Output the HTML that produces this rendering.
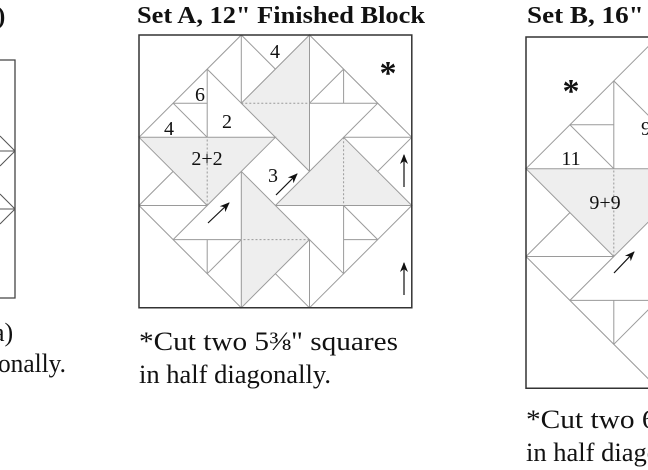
<!DOCTYPE html>
<html><head><meta charset="utf-8"><style>
html,body{margin:0;padding:0;background:#fff;width:648px;height:470px;overflow:hidden}
svg{display:block}
text{font-family:"Liberation Serif",serif;fill:#111}
</style></head><body>
<svg width="648" height="470" viewBox="0 0 648 470" xmlns="http://www.w3.org/2000/svg">
<defs>
<g id="arm">
 <polygon points="5,0 5,4 3,2" fill="#eeeeee" stroke="#9a9a9a" stroke-width="1" vector-effect="non-scaling-stroke"/>
 <g stroke="#9a9a9a" stroke-width="1" fill="none">
  <line x1="3" y1="0" x2="0" y2="3" vector-effect="non-scaling-stroke"/>
  <line x1="3" y1="0" x2="3" y2="2" vector-effect="non-scaling-stroke"/>
  <line x1="3" y1="0" x2="4" y2="1" vector-effect="non-scaling-stroke"/>
  <line x1="2" y1="1" x2="3" y2="2" vector-effect="non-scaling-stroke"/>
  <line x1="2" y1="1" x2="2" y2="3" vector-effect="non-scaling-stroke"/>
  <line x1="1" y1="2" x2="2" y2="2" vector-effect="non-scaling-stroke"/>
  <line x1="1" y1="2" x2="2" y2="3" vector-effect="non-scaling-stroke"/>
 </g>
 <line x1="3" y1="2" x2="5" y2="2" stroke="#999" stroke-width="1" stroke-dasharray="2,2" vector-effect="non-scaling-stroke"/>
</g>
<g id="block">
 <use href="#arm"/>
 <use href="#arm" transform="rotate(90,4,4)"/>
 <use href="#arm" transform="rotate(180,4,4)"/>
 <use href="#arm" transform="rotate(270,4,4)"/>
 <rect x="0" y="0" width="8" height="8" fill="none" stroke="#333" stroke-width="1.5" vector-effect="non-scaling-stroke"/>
</g>
<marker id="ah" viewBox="0 0 10 10" refX="9" refY="5" markerWidth="10" markerHeight="10" markerUnits="userSpaceOnUse" orient="auto">
 <path d="M0,1 L10,5 L0,9 L3,5 Z" fill="#111"/>
</marker>
</defs>

<!-- left partial block -->
<text x="-3" y="24" font-size="25" font-weight="bold">)</text>
<g stroke="#444" fill="none" stroke-width="1.3">
 <polyline points="0,60 15,60 15,298 0,298"/>
</g>
<g stroke="#555" fill="none" stroke-width="1">
 <line x1="0" y1="151" x2="15" y2="151"/>
 <line x1="0" y1="136" x2="15" y2="151"/>
 <line x1="0" y1="166" x2="15" y2="151"/>
 <line x1="0" y1="209" x2="15" y2="209"/>
 <line x1="0" y1="194" x2="15" y2="209"/>
 <line x1="0" y1="224" x2="15" y2="209"/>
</g>
<text x="-7" y="341" font-size="26">a)</text>
<text x="-2" y="372" font-size="26" textLength="68" lengthAdjust="spacingAndGlyphs">onally.</text>

<!-- Set A -->
<text x="137" y="23" font-size="24" font-weight="bold" textLength="288" lengthAdjust="spacingAndGlyphs">Set A, 12" Finished Block</text>
<g transform="translate(139,35) scale(34.1)"><use href="#block"/></g>
<g font-size="20" text-anchor="middle">
 <text x="275" y="58">4</text>
 <text x="200" y="101">6</text>
 <text x="227" y="128">2</text>
 <text x="169" y="135">4</text>
 <text x="207" y="165">2+2</text>
 <text x="273" y="182">3</text>
</g>
<text x="388" y="84" font-size="34" text-anchor="middle" font-weight="bold">*</text>
<g stroke="#111" stroke-width="1.2" marker-end="url(#ah)">
 <line x1="208" y1="223" x2="229" y2="203"/>
 <line x1="276" y1="195" x2="297" y2="174"/>
 <line x1="404" y1="187" x2="404" y2="155"/>
 <line x1="404" y1="295" x2="404" y2="263"/>
</g>
<text x="139" y="350" font-size="26" textLength="259" lengthAdjust="spacingAndGlyphs">*Cut two 5⅜" squares</text>
<text x="139" y="383" font-size="26" textLength="192" lengthAdjust="spacingAndGlyphs">in half diagonally.</text>

<!-- Set B -->
<text x="527" y="23" font-size="24" font-weight="bold" textLength="296" lengthAdjust="spacingAndGlyphs">Set B, 16" Finished Block</text>
<g transform="translate(526,37) scale(43.9)"><use href="#block"/></g>
<g font-size="20" text-anchor="middle">
 <text x="571" y="165">11</text>
 <text x="646" y="135">9</text>
 <text x="605" y="209">9+9</text>
</g>
<text x="571" y="102" font-size="34" text-anchor="middle" font-weight="bold">*</text>
<g stroke="#111" stroke-width="1.2" marker-end="url(#ah)">
 <line x1="614" y1="273" x2="634" y2="252"/>
</g>
<text x="526" y="428" font-size="26" textLength="260" lengthAdjust="spacingAndGlyphs">*Cut two 6⅞" squares</text>
<text x="526" y="461" font-size="26" textLength="192" lengthAdjust="spacingAndGlyphs">in half diagonally.</text>
</svg>
</body></html>
